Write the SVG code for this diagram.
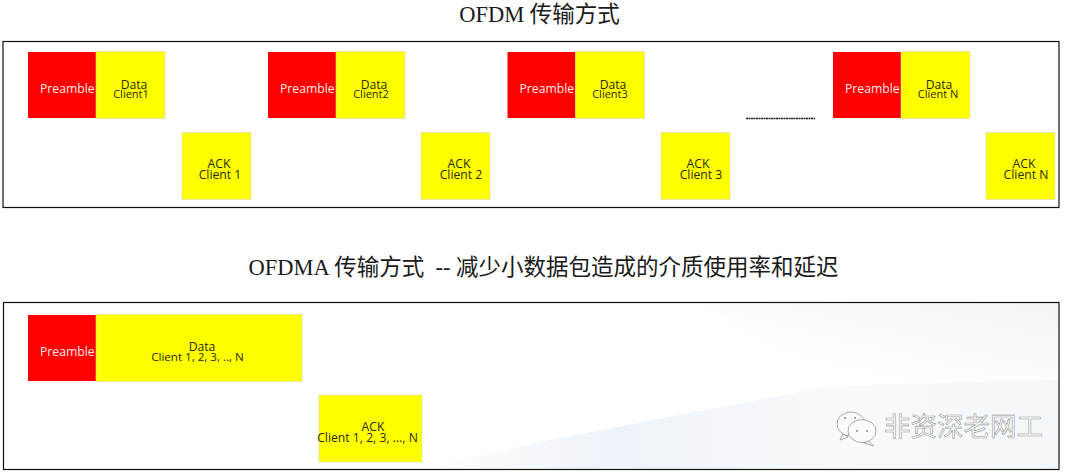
<svg xmlns="http://www.w3.org/2000/svg" width="1080" height="472" viewBox="0 0 1080 472">
<style>
.title{font-family:"Liberation Serif","Noto Sans CJK SC",serif;font-size:22.5px;fill:#1a1a1a;text-anchor:middle;white-space:pre}
.frame{fill:none;stroke:#111;stroke-width:1.2}
.red{fill:#ff0000}
.yel{fill:#ffff00;stroke:#d8d8c0;stroke-width:.6}
.w{font-family:"Open Sans","Noto Sans",sans-serif;font-size:12.2px;fill:#ffe8e8}
.k{font-family:"Open Sans","Noto Sans",sans-serif;font-size:12.2px;fill:#2a2a00;text-anchor:middle}
.s{font-size:11px}
.wm{font-family:"Noto Sans CJK SC",sans-serif;font-size:26.5px;fill:#fbfcfd;stroke:#9a9a9a;stroke-width:.6}
.ic{fill:#fbfcfd;stroke:#a0a0a0;stroke-width:.9}
</style>
<defs>
<linearGradient id="bg1" x1="0" y1="0" x2="1" y2="0"><stop offset="0" stop-color="#eef3f9" stop-opacity="0"/><stop offset=".3" stop-color="#eef3f9"/><stop offset=".65" stop-color="#f8fafc"/><stop offset="1" stop-color="#f4f7fa"/></linearGradient>
<linearGradient id="bg2" x1="0" y1="1" x2="1" y2="0"><stop offset="0" stop-color="#ffffff" stop-opacity="0"/><stop offset="1" stop-color="#f1f4f7"/></linearGradient>
</defs>
<rect width="1080" height="472" fill="#fff"/>
<path d="M700 302H1059V380L830 386Z" fill="url(#bg2)"/>
<path d="M420 469L540 442L830 386L1059 380V469Z" fill="url(#bg1)"/>
<text class="title" x="539.500" y="22">OFDM 传输方式</text>
<text class="title" x="543.500" y="275">OFDMA 传输方式  -- 减少小数据包造成的介质使用率和延迟</text>
<rect class="frame" x="3" y="41.5" width="1056" height="166"/>
<rect class="frame" x="3.5" y="302.5" width="1055.5" height="167"/>

<g id="ofdm-1">
<rect class="red" x="28" y="52" width="68" height="66"/><rect class="yel" x="96" y="51.5" width="69" height="67"/>
<text class="w" x="40" y="93">Preamble</text><text class="k" x="134" y="89">Data</text><text class="k s" x="131" y="98">Client1</text>
</g>
<g id="ack-1"><rect class="yel" x="182" y="132.5" width="69" height="67"/><text class="k" x="219" y="168">ACK</text><text class="k" x="220" y="179">Client 1</text></g>
<g id="ofdm-2">
<rect class="red" x="268" y="52" width="68" height="66"/><rect class="yel" x="336" y="51.5" width="69" height="67"/>
<text class="w" x="280" y="93">Preamble</text><text class="k" x="374" y="89">Data</text><text class="k s" x="371" y="98">Client2</text>
</g>
<g id="ack-2"><rect class="yel" x="421" y="132.5" width="69" height="67"/><text class="k" x="459" y="168">ACK</text><text class="k" x="461" y="179">Client 2</text></g>
<g id="ofdm-3">
<rect class="red" x="507.5" y="52" width="68" height="66"/><rect class="yel" x="575.5" y="51.5" width="69" height="67"/>
<text class="w" x="519.5" y="93">Preamble</text><text class="k" x="613" y="89">Data</text><text class="k s" x="610" y="98">Client3</text>
</g>
<g id="ack-3"><rect class="yel" x="661" y="132.5" width="69" height="67"/><text class="k" x="698" y="168">ACK</text><text class="k" x="701" y="179">Client 3</text></g>
<g id="ofdm-n">
<rect class="red" x="833" y="52" width="68" height="66"/><rect class="yel" x="901" y="51.5" width="69" height="67"/>
<text class="w" x="845" y="93">Preamble</text><text class="k" x="939" y="89">Data</text><text class="k s" x="938" y="98">Client N</text>
</g>
<g id="ack-n"><rect class="yel" x="986" y="132.5" width="69" height="67"/><text class="k" x="1024" y="168">ACK</text><text class="k" x="1026" y="179">Client N</text></g>

<g id="connectors"><line x1="746" y1="118.5" x2="815" y2="118.5" stroke="#222" stroke-width="1.5" stroke-dasharray="2 .5"/></g>

<g id="ofdma-data">
<rect class="red" x="28" y="315" width="68" height="66"/><rect class="yel" x="96" y="314.5" width="206" height="67"/>
<text class="w" x="40" y="356">Preamble</text><text class="k" x="202" y="350.500">Data</text><text class="k" x="197.500" y="361" style="font-size:11.6px">Client 1, 2, 3, .., N</text>
</g>
<g id="ofdma-ack"><rect class="yel" x="319" y="395" width="103" height="67"/><text class="k" x="373" y="431">ACK</text><text class="k" x="367.500" y="442">Client  1, 2, 3, ..., N</text></g>

<g id="watermark">
<ellipse class="ic" cx="851" cy="424" rx="14" ry="12"/><path class="ic" d="M843 434l-3 6 8-3z"/>
<ellipse class="ic" cx="862" cy="431" rx="14" ry="11.500"/><path class="ic" d="M868 441l6 5-10-3z"/>
<circle cx="857" cy="431" r="1" fill="#888"/><circle cx="867" cy="431" r="1" fill="#888"/><circle cx="845" cy="418" r="1" fill="#888"/><circle cx="855" cy="418" r="1" fill="#888"/>
<text class="wm" x="884" y="436">非资深老网工</text>
</g>
</svg>
